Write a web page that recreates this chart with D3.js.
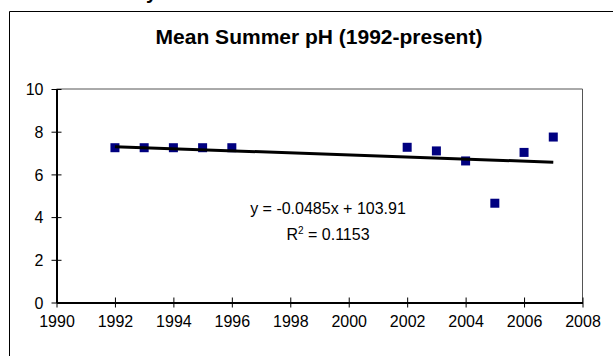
<!DOCTYPE html>
<html>
<head>
<meta charset="utf-8">
<script src="https://cdn.jsdelivr.net/npm/d3@7"></script>
<style>
  html, body { margin: 0; padding: 0; background: #fff; }
  svg { display: block; }
  text { font-family: "Liberation Sans", Arial, Helvetica, sans-serif; fill: #000; }
</style>
</head>
<body>
<svg id="chart" width="613" height="356"></svg>
<script>
// Mean summer pH by year
const years = [1992, 1993, 1994, 1995, 1996, 2002, 2003, 2004, 2005, 2006, 2007];
const phValues = [7.25, 7.25, 7.25, 7.25, 7.25, 7.27, 7.1, 6.63, 4.65, 7.03, 7.75];

// Axis ticks
const xTicks = [1990, 1992, 1994, 1996, 1998, 2000, 2002, 2004, 2006, 2008];
const yTicks = [0, 2, 4, 6, 8, 10];

// Linear trendline reported on the chart
const trendSlope = -0.0485;
const trendIntercept = 103.91;
const trendEquation = "y = -0.0485x + 103.91";
const rSquaredText = " = 0.1153";

const title = "Mean Summer pH (1992-present)";

const svg = d3.select("#chart");

// Heading text above the chart frame (only its lower part is on the page)
svg.append("text")
  .attr("x", 146).attr("y", -1)
  .attr("font-size", 20).attr("font-weight", "bold")
  .text("y");

// Chart frame
svg.append("path")
  .attr("d", "M9.5,356 L9.5,11.5 L613,11.5")
  .attr("fill", "none").attr("stroke", "#000").attr("stroke-width", 1);

const plot = { left: 56.5, right: 582.5, top: 89, bottom: 302.5 };

const x = d3.scaleLinear().domain([1990, 2008]).range([plot.left, plot.right]);
const y = d3.scaleLinear().domain([0, 10]).range([plot.bottom, plot.top]);

// Plot area border (top and right)
svg.append("path")
  .attr("d", `M${plot.left},${plot.top} L${plot.right},${plot.top} L${plot.right},${plot.bottom}`)
  .attr("fill", "none").attr("stroke", "#555").attr("stroke-width", 1);

// Title
svg.append("text")
  .attr("x", 319).attr("y", 44)
  .attr("text-anchor", "middle")
  .attr("font-size", 21).attr("font-weight", "bold")
  .text(title);

// Axes: ticks cross the axis line
const xAxis = svg.append("g")
  .attr("transform", `translate(0,${plot.bottom})`)
  .call(d3.axisBottom(x).tickValues(xTicks).tickFormat(d3.format("d")).tickSize(5).tickSizeOuter(0));
xAxis.selectAll(".tick line").attr("y1", -5).attr("stroke", "#000");
xAxis.select(".domain").attr("stroke", "#000").attr("stroke-width", 2);
xAxis.selectAll(".tick text")
  .attr("y", 24).attr("dy", 0)
  .attr("font-size", 16).attr("font-family", "Liberation Sans, Arial, sans-serif").attr("fill", "#000");

const yAxis = svg.append("g")
  .attr("transform", `translate(${plot.left},0)`)
  .call(d3.axisLeft(y).tickValues(yTicks).tickFormat(d3.format("d")).tickSize(5).tickSizeOuter(0));
yAxis.selectAll(".tick line").attr("x1", 5).attr("x2", -5).attr("stroke", "#000");
yAxis.select(".domain").attr("stroke", "#000").attr("stroke-width", 2);
yAxis.selectAll(".tick text")
  .attr("x", -13).attr("dy", "0.35em")
  .attr("font-size", 16).attr("font-family", "Liberation Sans, Arial, sans-serif").attr("fill", "#000");

// Markers
const data = years.map((yr, i) => ({ year: yr, ph: phValues[i] }));
const s = 9;
svg.append("g").selectAll("rect")
  .data(data)
  .join("rect")
  .attr("x", d => x(d.year) - s / 2)
  .attr("y", d => y(d.ph) - s / 2)
  .attr("width", s).attr("height", s)
  .attr("fill", "#000080");

// Trendline over the data range
const xMin = d3.min(years), xMax = d3.max(years);
svg.append("line")
  .attr("x1", x(xMin)).attr("y1", y(trendSlope * xMin + trendIntercept))
  .attr("x2", x(xMax)).attr("y2", y(trendSlope * xMax + trendIntercept))
  .attr("stroke", "#000").attr("stroke-width", 3);

// Trendline equation and R squared
svg.append("text")
  .attr("x", 328).attr("y", 214)
  .attr("text-anchor", "middle")
  .attr("font-size", 16)
  .text(trendEquation);

const r2 = svg.append("text")
  .attr("x", 328).attr("y", 240)
  .attr("text-anchor", "middle")
  .attr("font-size", 16);
r2.append("tspan").text("R");
r2.append("tspan").attr("font-size", 10).attr("dy", -6).text("2");
r2.append("tspan").attr("dy", 6).text(rSquaredText);
</script>
</body>
</html>
